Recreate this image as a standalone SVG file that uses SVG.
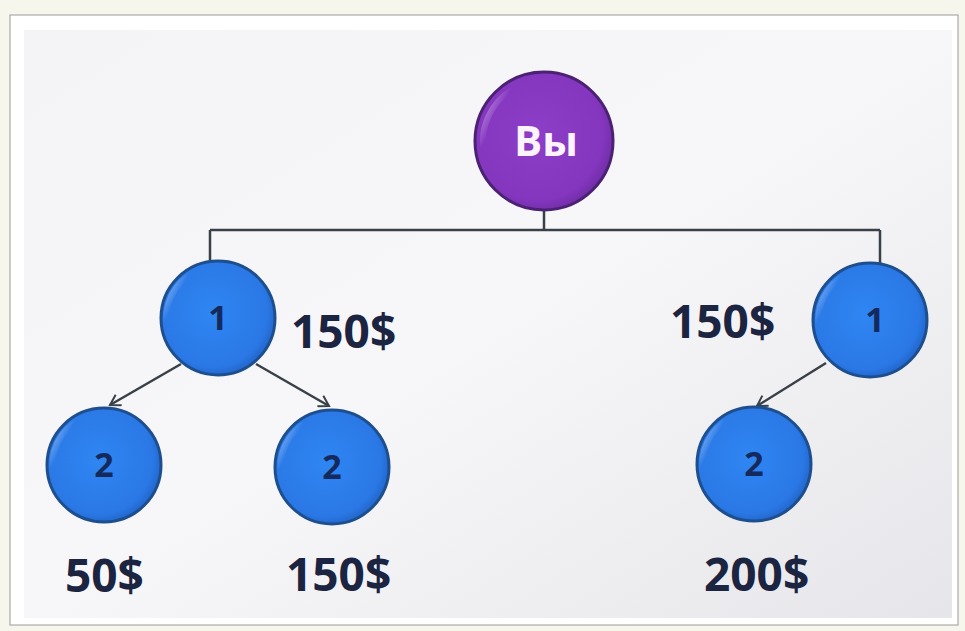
<svg xmlns="http://www.w3.org/2000/svg" width="965" height="631" viewBox="0 0 965 631">
<defs>
<linearGradient id="bg" x1="0" y1="0" x2="1" y2="1">
<stop offset="0" stop-color="#f4f4f6"/><stop offset="0.5" stop-color="#f7f7f9"/><stop offset="1" stop-color="#e6e6ea"/>
</linearGradient>
<radialGradient id="blue" cx="0.45" cy="0.45" r="0.6">
<stop offset="0" stop-color="#2f86f2"/><stop offset="0.8" stop-color="#2a78e6"/><stop offset="1" stop-color="#1f5fc0"/>
</radialGradient>
<radialGradient id="purple" cx="0.45" cy="0.45" r="0.6">
<stop offset="0" stop-color="#8c3ec8"/><stop offset="0.8" stop-color="#8436be"/><stop offset="1" stop-color="#6a2a9e"/>
</radialGradient>
<linearGradient id="shine" x1="0" y1="0" x2="1" y2="1">
<stop offset="0" stop-color="#ffffff" stop-opacity="0.6"/><stop offset="0.4" stop-color="#ffffff" stop-opacity="0"/>
</linearGradient>
<marker id="arr" markerWidth="14" markerHeight="14" refX="11" refY="7" orient="auto" markerUnits="userSpaceOnUse">
<path d="M1,1 L11,7 L1,13" fill="none" stroke="#3a4048" stroke-width="2"/>
</marker>
<style>
.n2{fill:url(#blue);stroke:#1d4f8e;stroke-width:3}
.np{fill:url(#purple);stroke:#4b2273;stroke-width:3}
.sh{fill:none;stroke:url(#shine);stroke-width:6}
.num{font-family:"Open Sans","Liberation Sans",sans-serif;font-weight:bold;font-size:34px;fill:#142a5c;text-anchor:middle}
.you{font-family:"Open Sans","Liberation Sans",sans-serif;font-weight:bold;font-size:42px;fill:#fbf4ff;text-anchor:middle}
.lbl{font-family:"Open Sans","Liberation Sans",sans-serif;font-weight:bold;font-size:46px;fill:#1b2440}
.ln{fill:none;stroke:#3a4048;stroke-width:2.5}
</style>
</defs>
<rect x="0" y="0" width="965" height="631" fill="#f6f6ec"/>
<rect x="10" y="15" width="948" height="610" fill="#ffffff" stroke="#9a9a9a" stroke-width="1"/>
<rect x="24" y="30" width="928" height="588" fill="url(#bg)"/>
<g id="connectors">
<path class="ln" d="M544,210 V230 M210,230 H880 M210,230 V262 M880,230 V264"/>
<line class="ln" x1="181" y1="364" x2="110" y2="405" marker-end="url(#arr)"/>
<line class="ln" x1="256" y1="364" x2="329" y2="406" marker-end="url(#arr)"/>
<line class="ln" x1="826" y1="363" x2="757" y2="406" marker-end="url(#arr)"/>
</g>
<g id="you">
<circle class="np" cx="544" cy="141" r="69"/>
<path class="sh" d="M486,160 A60,60 0 0 1 520,86"/>
<text class="you" x="546" y="156">Вы</text>
</g>
<g id="n1left">
<circle class="n2" cx="218" cy="318" r="57"/>
<path class="sh" d="M168,330 A50,50 0 0 1 196,272"/>
<text class="num" x="218" y="330">1</text>
</g>
<g id="n1right">
<circle class="n2" cx="870" cy="320" r="57"/>
<path class="sh" d="M820,332 A50,50 0 0 1 848,274"/>
<text class="num" x="875" y="332">1</text>
</g>
<g id="n2a">
<circle class="n2" cx="104" cy="465" r="57"/>
<path class="sh" d="M54,477 A50,50 0 0 1 82,419"/>
<text class="num" x="104" y="477">2</text>
</g>
<g id="n2b">
<circle class="n2" cx="332" cy="467" r="57"/>
<path class="sh" d="M282,479 A50,50 0 0 1 310,421"/>
<text class="num" x="332" y="479">2</text>
</g>
<g id="n2c">
<circle class="n2" cx="754" cy="464" r="57"/>
<path class="sh" d="M704,476 A50,50 0 0 1 732,418"/>
<text class="num" x="754" y="476">2</text>
</g>
<g id="labels">
<text class="lbl" x="291" y="348">150$</text>
<text class="lbl" x="670" y="338">150$</text>
<text class="lbl" x="65" y="592">50$</text>
<text class="lbl" x="286" y="591">150$</text>
<text class="lbl" x="704" y="591">200$</text>
</g>
</svg>
